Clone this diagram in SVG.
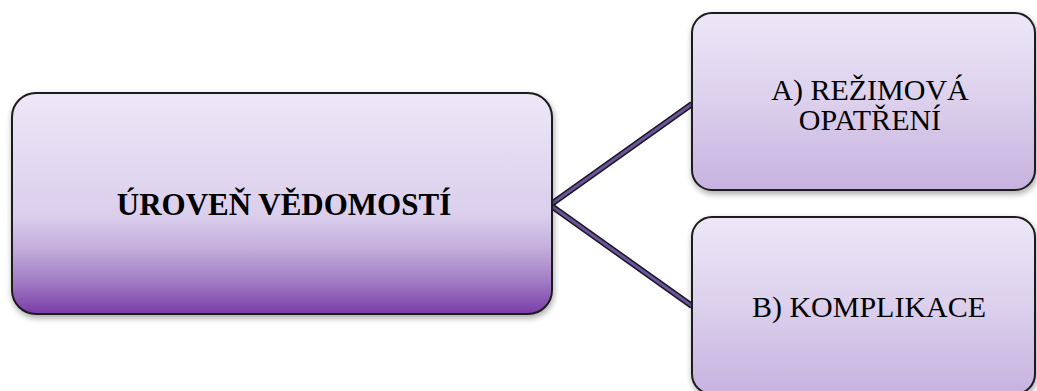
<svg xmlns="http://www.w3.org/2000/svg" width="1037" height="391" viewBox="0 0 1037 391">
  <style>
    .box { stroke: #1c1c1c; stroke-width: 2; }
    text { font-family: 'Liberation Serif', 'Times New Roman', 'DejaVu Serif', serif; fill: #000; text-anchor: middle; }
    .main { font-weight: bold; font-size: 31px; }
    .sub { font-size: 30px; }
    .wire-outer { stroke: #1a1424; stroke-width: 6; fill: none; stroke-linejoin: miter; stroke-linecap: butt; }
    .wire-inner { stroke: #6a559a; stroke-width: 3; fill: none; stroke-linejoin: miter; stroke-linecap: butt; }
  </style>
  <defs>
    <linearGradient id="gradMain" x1="0" y1="0" x2="0" y2="1">
      <stop offset="0" stop-color="#ede7f7"/>
      <stop offset="0.55" stop-color="#dbcfec"/>
      <stop offset="0.7" stop-color="#c4aedc"/>
      <stop offset="0.85" stop-color="#a27dc6"/>
      <stop offset="1" stop-color="#7a3ca6"/>
    </linearGradient>
    <linearGradient id="gradLeaf" x1="0" y1="0" x2="0" y2="1">
      <stop offset="0" stop-color="#ede7f7"/>
      <stop offset="0.5" stop-color="#dcd0ec"/>
      <stop offset="1" stop-color="#c7b2e0"/>
    </linearGradient>
    <filter id="shadow" x="-5%" y="-5%" width="110%" height="115%">
      <feGaussianBlur in="SourceAlpha" stdDeviation="3"/>
      <feOffset dx="1" dy="3" result="b"/>
      <feComponentTransfer><feFuncA type="linear" slope="0.35"/></feComponentTransfer>
      <feMerge><feMergeNode/><feMergeNode in="SourceGraphic"/></feMerge>
    </filter>
  </defs>

  <g id="connectors">
    <polyline class="wire-outer" points="692,104 550,205 692,306"/>
    <polyline class="wire-inner" points="692,104 550,205 692,306"/>
  </g>

  <g id="node-uroven">
    <rect class="box" x="12" y="93" width="540" height="221" rx="24" fill="url(#gradMain)" filter="url(#shadow)"/>
    <text class="main" x="284" y="215" font-family="Liberation Serif, serif">ÚROVEŇ VĚDOMOSTÍ</text>
  </g>

  <g id="node-rezimova">
    <rect class="box" x="692" y="13" width="343" height="177" rx="20" fill="url(#gradLeaf)" filter="url(#shadow)"/>
    <text class="sub" x="870" y="100" font-family="Liberation Serif, serif">A) REŽIMOVÁ</text>
    <text class="sub" x="870" y="130" font-family="Liberation Serif, serif">OPATŘENÍ</text>
  </g>

  <g id="node-komplikace">
    <rect class="box" x="692" y="217" width="343" height="177" rx="20" fill="url(#gradLeaf)" filter="url(#shadow)"/>
    <text class="sub" x="869" y="317" font-family="Liberation Serif, serif">B) KOMPLIKACE</text>
  </g>
</svg>
